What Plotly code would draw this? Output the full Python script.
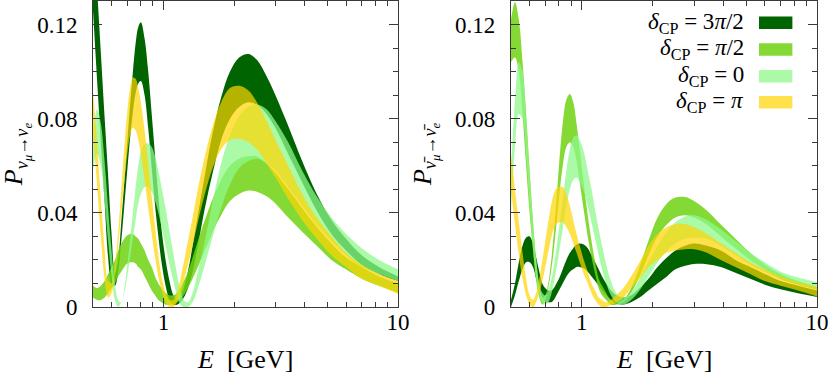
"""Appearance probabilities for four values of delta_CP, neutrinos and antineutrinos"""

import numpy as np
import plotly.graph_objects as go

# energy grid shared by all bands [GeV]
energy = [0.50, 0.52, 0.54, 0.56, 0.58, 0.60, 0.62, 0.64, 0.66, 0.68,
          0.70, 0.72, 0.74, 0.76, 0.78, 0.80, 0.83, 0.86, 0.89, 0.92,
          0.95, 0.98, 1.02, 1.06, 1.10, 1.14, 1.18, 1.22, 1.27, 1.33,
          1.40, 1.50, 1.62, 1.76, 1.92, 2.1, 2.3, 2.5, 2.75, 3.0,
          3.4, 3.9, 4.5, 5.2, 6.0, 7.0, 8.3, 10.0]

# neutrino panel, upper / lower edge of each band
nu_3pi2_hi = [.165, .136, .108, .081, .056, .031, .014, .020, .036, .053,
              .070, .086, .100, .112, .119, .121, .114, .100, .082, .064,
              .047, .033, .020, .011, .005, .003, .004, .008, .015, .026,
              .039, .056, .074, .089, .100, .106, .1075, .105, .098, .090,
              .077, .062, .048, .037, .029, .022, .017, .013]
nu_3pi2_lo = [.126, .097, .070, .045, .021, .010, .009, .015, .028, .043,
              .058, .072, .083, .091, .095, .096, .090, .076, .059, .043,
              .030, .019, .009, .003, .001, .001, .002, .004, .008, .015,
              .026, .042, .057, .071, .080, .085, .087, .086, .082, .076,
              .065, .053, .041, .031, .024, .018, .014, .011]
nu_pi2_hi = [.009, .008, .009, .011, .014, .017, .020, .024, .027, .029,
             .0305, .031, .031, .030, .029, .027, .024, .020, .017, .013,
             .010, .008, .006, .005, .005, .006, .008, .011, .015, .021,
             .028, .037, .046, .054, .060, .063, .064, .064, .061, .057,
             .050, .042, .034, .027, .021, .017, .013, .010]
nu_pi2_lo = [.004, .003, .003, .004, .006, .008, .010, .013, .015, .017,
             .0185, .019, .019, .0185, .017, .016, .013, .010, .007, .005,
             .003, .002, .001, .001, .001, .002, .003, .005, .008, .012,
             .017, .024, .032, .039, .045, .048, .0495, .049, .047, .044,
             .038, .032, .026, .020, .016, .012, .009, .006]
nu_0_hi = [.072, .084, .078, .062, .042, .024, .010, .003, .002, .008,
           .018, .029, .040, .051, .060, .066, .069, .0695, .068, .064,
           .058, .051, .042, .032, .023, .014, .007, .003, .002, .006,
           .015, .028, .045, .061, .073, .081, .085, .086, .084, .079,
           .070, .058, .047, .038, .031, .025, .020, .016]
nu_0_lo = [.058, .065, .060, .045, .028, .013, .003, .000, .002, .006,
           .013, .021, .029, .037, .044, .048, .051, .051, .049, .045,
           .040, .034, .026, .018, .011, .005, .001, .000, .000, .002,
           .008, .018, .030, .042, .052, .059, .062, .063, .061, .058,
           .051, .043, .035, .028, .022, .017, .014, .011]
nu_pi_hi = [.092, .070, .046, .025, .011, .010, .018, .032, .050, .068,
            .083, .093, .0975, .097, .093, .087, .075, .061, .047, .034,
            .022, .013, .006, .003, .003, .006, .012, .019, .028, .038,
            .050, .064, .077, .087, .093, .094, .092, .087, .079, .071,
            .060, .048, .038, .030, .023, .018, .014, .011]
nu_pi_lo = [.075, .052, .030, .012, .004, .006, .014, .026, .040, .053,
            .065, .073, .076, .075, .071, .065, .054, .042, .031, .021,
            .013, .007, .002, .000, .000, .002, .006, .011, .018, .026,
            .036, .048, .059, .067, .071, .0715, .070, .067, .061, .055,
            .046, .037, .029, .022, .017, .012, .009, .0055]

# antineutrino panel
nb_3pi2_hi = [.003, .010, .019, .026, .0295, .030, .027, .021, .015, .010,
              .008, .007, .007, .008, .010, .012, .016, .020, .023, .025,
              .0265, .027, .0265, .025, .022, .019, .016, .013, .010, .007,
              .005, .004, .005, .008, .012, .017, .021, .024, .026, .027,
              .026, .024, .020, .017, .014, .011, .009, .007]
nb_3pi2_lo = [.000, .005, .011, .016, .019, .019, .017, .012, .007, .004,
              .002, .002, .002, .003, .005, .007, .010, .013, .015, .016,
              .017, .017, .0165, .015, .013, .011, .009, .007, .005, .003,
              .0015, .001, .002, .004, .007, .010, .013, .016, .0175, .0183,
              .0182, .017, .0145, .012, .0095, .0075, .0058, .0042]
nb_pi2_hi = [.122, .1295, .122, .104, .082, .058, .037, .020, .009, .004,
             .005, .010, .019, .031, .045, .060, .078, .088, .0905, .087,
             .078, .067, .052, .039, .028, .019, .012, .009, .006, .003,
             .002, .003, .008, .017, .028, .038, .044, .0465, .0467, .045,
             .041, .035, .029, .023, .018, .014, .011, .0085]
nb_pi2_lo = [.104, .106, .100, .082, .060, .040, .024, .011, .004, .001,
             .003, .008, .015, .024, .035, .046, .060, .068, .070, .068,
             .062, .053, .041, .030, .021, .014, .008, .005, .003, .001,
             .001, .002, .006, .013, .022, .030, .035, .038, .039, .038,
             .035, .030, .025, .020, .016, .012, .0095, .0075]
nb_0_hi = [.057, .088, .104, .100, .080, .057, .036, .020, .010, .006,
           .005, .007, .011, .017, .025, .033, .046, .058, .067, .072,
           .073, .071, .066, .058, .050, .041, .033, .026, .018, .011,
           .006, .004, .006, .012, .019, .026, .032, .036, .0385, .039,
           .037, .033, .028, .023, .019, .015, .0125, .0105]
nb_0_lo = [.040, .068, .082, .080, .064, .043, .025, .012, .005, .002,
           .001, .002, .005, .010, .016, .023, .033, .043, .050, .054,
           .055, .053, .049, .043, .036, .029, .022, .016, .010, .005,
           .002, .001, .003, .007, .013, .019, .024, .027, .029, .0295,
           .029, .026, .022, .018, .015, .012, .0095, .0078]
nb_pi_hi = [.066, .050, .036, .023, .012, .005, .003, .006, .012, .020,
            .028, .036, .043, .048, .0505, .051, .051, .048, .043, .037,
            .031, .026, .020, .015, .010, .007, .004, .003, .002, .003,
            .005, .008, .013, .019, .026, .031, .034, .0352, .0352, .034,
            .031, .027, .023, .019, .016, .013, .0105, .0085]
nb_pi_lo = [.050, .035, .022, .012, .005, .001, .000, .002, .006, .011,
            .017, .023, .029, .033, .035, .036, .036, .034, .031, .027,
            .023, .019, .014, .010, .006, .003, .001, .000, .000, .001,
            .002, .004, .008, .012, .017, .020, .023, .024, .0245, .0245,
            .023, .020, .017, .014, .011, .009, .007, .0045]

labels = ["<i>δ</i><sub>CP</sub> = 3<i>π</i>/2", "<i>δ</i><sub>CP</sub> = <i>π</i>/2",
          "<i>δ</i><sub>CP</sub> = 0", "<i>δ</i><sub>CP</sub> = <i>π</i>"]
colors = ["rgb(0,100,0)", "rgba(110,210,16,0.85)",
          "rgba(142,248,139,0.75)", "rgba(255,212,0,0.7)"]

FONT = "Liberation Serif, Times New Roman, serif"

fig = go.Figure()


def add_band(lo, hi, color, xa, ya):
    """Fill the region between the lower and upper edge"""
    common = dict(x=energy, mode="lines", xaxis=xa, yaxis=ya,
                  line=dict(width=0, shape="spline"),
                  hoverinfo="skip", showlegend=False)
    fig.add_trace(go.Scatter(y=lo, **common))
    fig.add_trace(go.Scatter(y=hi, fill="tonexty", fillcolor=color, **common))


nu_bands = [(nu_3pi2_lo, nu_3pi2_hi), (nu_pi2_lo, nu_pi2_hi),
            (nu_0_lo, nu_0_hi), (nu_pi_lo, nu_pi_hi)]
nb_bands = [(nb_3pi2_lo, nb_3pi2_hi), (nb_pi2_lo, nb_pi2_hi),
            (nb_0_lo, nb_0_hi), (nb_pi_lo, nb_pi_hi)]
for (lo, hi), c in zip(nu_bands, colors):
    add_band(lo, hi, c, "x", "y")
for (lo, hi), c in zip(nb_bands, colors):
    add_band(lo, hi, c, "x2", "y2")

axis_line = "#3a3a3a"
xaxis_style = dict(
    type="log", range=[np.log10(0.5), 1.0],
    tickmode="array", tickvals=[1, 10], ticktext=["1", "10"],
    ticks="inside", ticklen=9, tickcolor=axis_line, tickwidth=1,
    minor=dict(tickmode="array", tickvals=[0.6, 0.7, 0.8, 0.9, 2, 3, 4, 5, 6, 7, 8, 9],
               ticks="inside", ticklen=5, tickcolor=axis_line),
    showline=True, linecolor=axis_line, linewidth=1, mirror="ticks",
    showgrid=False, zeroline=False, ticklabelstandoff=-6,
    tickfont=dict(family=FONT, size=23, color="black"),
)
yaxis_style = dict(
    range=[0, 0.13],
    tickmode="array", tickvals=[0, 0.04, 0.08, 0.12], ticktext=["0", "0.04", "0.08", "0.12"],
    ticks="inside", ticklen=9, tickcolor=axis_line, tickwidth=1,
    minor=dict(tickmode="array", tickvals=[0.01, 0.02, 0.03, 0.05, 0.06, 0.07, 0.09, 0.10, 0.11],
               ticks="inside", ticklen=5, tickcolor=axis_line),
    showline=True, linecolor=axis_line, linewidth=1, mirror="ticks",
    showgrid=False, zeroline=False, ticklabelstandoff=10,
    tickfont=dict(family=FONT, size=23, color="black"),
)

fig.update_layout(
    width=830, height=376,
    margin=dict(l=93, r=13, t=1, b=69),
    paper_bgcolor="white", plot_bgcolor="white",
    showlegend=False,
    font=dict(family=FONT, color="black"),
    xaxis=dict(domain=[0, 0.4213], anchor="y", **xaxis_style),
    yaxis=dict(domain=[0, 1], anchor="x", **yaxis_style),
    xaxis2=dict(domain=[0.5773, 1], anchor="y2", **xaxis_style),
    yaxis2=dict(domain=[0, 1], anchor="x2", **yaxis_style),
)

# axis titles
title_font = dict(family=FONT, size=26, color="black")
for xc in (0.2106, 0.788):
    fig.add_annotation(x=xc, y=-0.172, xref="paper", yref="paper",
                       text="<i>E</i>  [GeV]", showarrow=False,
                       xanchor="center", yanchor="middle", font=title_font)
fig.add_annotation(x=-0.106, y=0.5, xref="paper", yref="paper", textangle=-90,
                   text="<i>P</i><sub><i>ν</i><sub><i>μ</i></sub>→<i>ν</i><sub><i>e</i></sub></sub>",
                   showarrow=False, xanchor="center", yanchor="middle", font=title_font)
fig.add_annotation(x=0.4586, y=0.5, xref="paper", yref="paper", textangle=-90,
                   text="<i>P</i><sub><i>ν\u0304</i><sub><i>μ</i></sub>→<i>ν\u0304</i><sub><i>e</i></sub></sub>",
                   showarrow=False, xanchor="center", yanchor="middle", font=title_font)

# legend drawn by hand: label on the left, colour box on the right
legend_y = [0.9288, 0.8418, 0.7539, 0.6689]
for lab, c, yc in zip(labels, colors, legend_y):
    fig.add_annotation(x=0.9019, y=yc, xref="paper", yref="paper", text=lab,
                       showarrow=False, xanchor="right", yanchor="middle",
                       font=dict(family=FONT, size=23, color="black"))
    fig.add_shape(type="rect", xref="paper", yref="paper",
                  x0=0.9199, x1=0.9660, y0=yc - 0.0205, y1=yc + 0.0205,
                  fillcolor=c, line=dict(width=0))

# the page body has a default 8px margin; drop it so the figure sits at the corner
fig.write_html("out.html", config={"displayModeBar": False},
               post_script="document.body.style.margin='0';")
